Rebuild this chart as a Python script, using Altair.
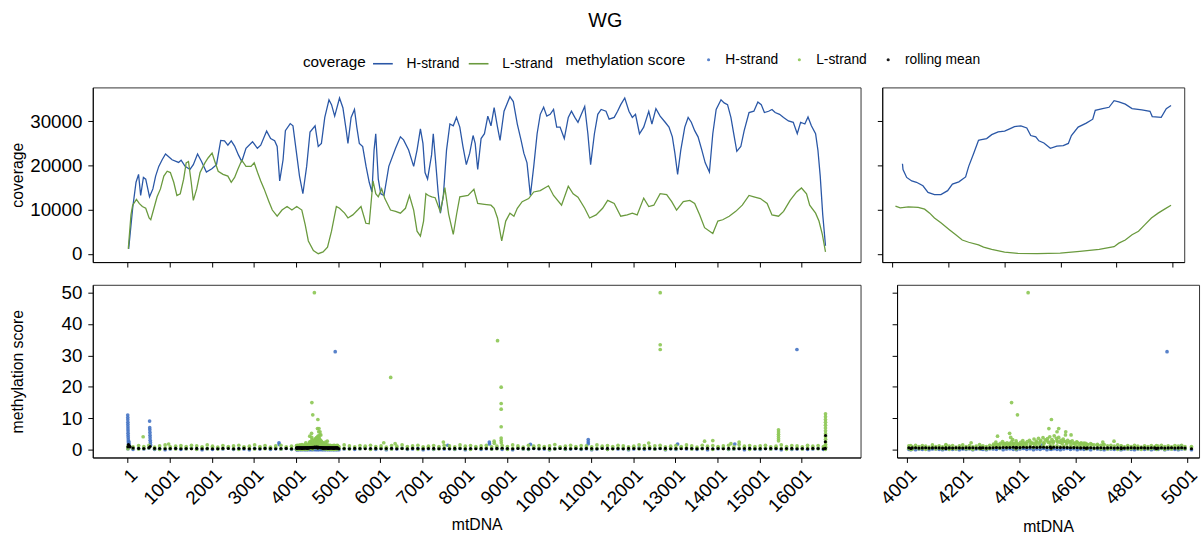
import altair as alt
import pandas as pd

# ---------------- data ----------------
x_ticks_full = [1, 1001, 2001, 3001, 4001, 5001, 6001, 7001, 8001, 9001, 10001,
                11001, 12001, 13001, 14001, 15001, 16001]
x_ticks_zoom = [4001, 4201, 4401, 4601, 4801, 5001]
cov_ticks = [0, 10000, 20000, 30000]
meth_ticks = [0, 10, 20, 30, 40, 50]
strands = ["H-strand", "L-strand"]
meth_series = ["H-strand", "L-strand", "rolling mean"]

# coverage, whole mtDNA (position, coverage)
cov_H_full = [(25,1100),(120,10300),(200,16200),(260,18000),(310,13200),(375,17300),(430,16900),(520,12900),
 (600,14700),(665,17600),(740,19800),(820,21300),(900,22600),(975,22000),(1055,21300),(1210,20700),(1270,21200),
 (1365,19800),(1480,19100),(1560,20200),(1660,22600),(1755,20900),(1870,18500),(2000,19250),(2110,20200),
 (2210,25700),(2300,25600),(2380,24600),(2460,25600),(2540,24400),(2630,22400),(2710,20900),(2810,23900),
 (2965,25400),(3080,23900),(3160,24600),(3300,27800),(3395,26100),(3490,25600),(3550,24300),(3610,16500),
 (3690,21300),(3745,27900),(3860,29500),(3925,29000),(4000,23500),(4080,17600),(4160,13600),(4250,19800),
 (4330,27600),(4450,29000),(4525,24300),(4600,25000),(4680,30900),(4780,34900),(4840,33800),(4915,31200),
 (5030,35300),(5110,33100),(5190,27900),(5230,25000),(5305,30900),(5385,32700),(5440,28700),(5500,25000),
 (5580,24300),(5660,19800),(5735,16200),(5800,14000),(5850,23500),(5890,27200),(5950,16900),(6010,13600),
 (6085,13200),(6200,19800),(6360,23900),(6475,26500),(6550,25800),(6670,23500),(6790,19800),(6870,23500),
 (6950,28300),(7010,25000),(7060,18400),(7120,16900),(7215,22400),(7255,27200),(7310,21000),(7370,14000),
 (7425,9200),(7495,13200),(7570,23500),(7650,29400),(7730,29000),(7806,30900),(7885,28700),(7960,24300),
 (8040,20200),(8120,22800),(8200,26800),(8250,25000),(8310,19100),(8390,26100),(8470,27200),(8550,31200),
 (8625,29000),(8700,33100),(8780,28700),(8840,25700),(8935,32300),(9075,35600),(9155,34500),(9250,29400),
 (9340,25700),(9405,22800),(9480,20600),(9560,13200),(9640,19800),(9720,27200),(9795,31600),(9875,33200),
 (9950,31200),(10030,31600),(10110,32700),(10185,28700),(10265,28700),(10365,26100),(10460,30900),
 (10535,32300),(10615,30900),(10690,29800),(10770,31600),(10850,33400),(10925,27200),(10990,20200),
 (11080,27200),(11160,31600),(11240,32700),(11355,32300),(11430,30500),(11550,30900),(11630,32300),
 (11705,33800),(11800,35300),(11900,32300),(11980,30900),(12055,31600),(12150,27200),(12250,28700),
 (12370,32300),(12445,29400),(12540,32900),(12640,31200),(12760,29800),(12850,28700),(12930,26500),
 (12990,22800),(13055,18000),(13130,23500),(13225,28700),(13305,30900),(13380,29800),(13460,27900),
 (13540,26500),(13630,23500),(13710,20600),(13810,18500),(13890,27200),(13970,32700),(14085,34900),
 (14160,34200),(14240,33800),(14320,30900),(14400,26500),(14460,23200),(14555,24300),(14635,27900),
 (14750,32000),(14865,32300),(14960,34400),(15040,33800),(15115,32000),(15215,32300),(15295,32700),
 (15370,32000),(15475,31600),(15570,30900),(15685,30100),(15800,29800),(15895,27200),(15975,29800),
 (16075,29400),(16150,31000),(16230,29000),(16330,27200),(16385,23500),(16440,17600),(16500,8800),(16565,1800)]

cov_L_full = [(16,1100),(80,8800),(120,11000),(210,12300),(275,11400),(350,10700),(430,10300),(510,8100),
 (550,7700),(625,10300),(700,12900),(780,14700),(860,17600),(940,18700),(1015,18400),(1095,16200),(1170,13200),
 (1250,13600),(1330,16900),(1390,20600),(1445,20900),(1510,16200),(1560,12100),(1640,14700),(1720,18400),
 (1835,20600),(1910,21700),(2005,22800),(2070,20900),(2150,18700),(2265,18000),(2380,17600),(2460,16200),
 (2540,17300),(2615,19100),(2710,21200),(2810,19800),(2930,19800),(3005,20600),(3085,18400),(3160,16500),
 (3240,14700),(3355,11800),(3435,9900),(3550,8500),(3665,9900),(3785,10700),(3900,9900),(4015,10700),
 (4135,9900),(4215,6600),(4290,2900),(4410,700),(4525,0),(4640,400),(4745,1500),(4840,5100),(4955,10700),
 (5030,10300),(5150,9200),(5230,8100),(5345,8800),(5460,9900),(5540,10700),(5655,6900),(5735,6800),
 (5825,16500),(5890,13600),(5950,12900),(6030,14700),(6105,12500),(6240,9900),(6360,9600),(6475,9200),
 (6595,10300),(6690,13200),(6790,9900),(6870,5100),(6950,4000),(7025,7400),(7080,13600),(7140,13200),
 (7220,12900),(7300,12700),(7420,9600),(7470,11800),(7530,15000),(7620,9000),(7730,4400),(7810,9000),
 (7885,12900),(8080,13200),(8220,14600),(8310,11400),(8470,11200),(8625,11000),(8700,10300),(8780,8100),
 (8880,2900),(8975,7400),(9075,9200),(9170,8500),(9250,10300),(9365,11800),(9520,12500),(9640,14000),
 (9795,14300),(9990,15400),(10110,13200),(10300,11000),(10460,15300),(10575,13600),(10690,12800),
 (10850,10300),(10965,8100),(11120,8800),(11275,10300),(11395,12100),(11550,11400),(11705,8500),
 (11860,8800),(11980,9200),(12095,8800),(12250,12600),(12370,10700),(12490,11000),(12640,13600),
 (12795,13400),(12915,11800),(13030,9900),(13190,11800),(13345,12100),(13460,11400),(13580,8800),
 (13695,5900),(13890,4600),(14010,7400),(14125,7700),(14280,8500),(14435,9600),(14590,11000),(14750,13200),
 (14865,12900),(15020,12500),(15180,11400),(15295,8800),(15450,8500),(15570,9600),(15725,12100),
 (15880,14000),(15995,14900),(16115,13600),(16190,11000),(16330,9200),(16410,7400),(16490,4400),(16565,400)]

# coverage, region 4001-5001
cov_H_zoom = [(4038,20400),(4040,19100),(4053,17300),(4071,16500),(4088,16200),(4111,15400),(4129,13900),
 (4152,13400),(4175,13400),(4199,14300),(4216,15800),(4239,16300),(4263,17400),(4274,19800),(4292,22800),
 (4309,25700),(4315,25800),(4338,26100),(4356,27000),(4379,27600),(4402,27800),(4420,28300),(4437,28800),
 (4460,29000),(4481,28500),(4495,26800),(4513,26500),(4524,25600),(4542,25100),(4565,23900),(4588,24400),
 (4611,24500),(4629,25000),(4640,26800),(4664,28700),(4693,29600),(4716,30500),(4725,32500),(4751,32900),
 (4774,33200),(4792,34700),(4809,34400),(4832,33900),(4856,32900),(4891,32600),(4920,32300),(4928,31100),
 (4960,30900),(4978,32900),(4995,33600)]
cov_L_zoom = [(4013,10800),(4030,10400),(4059,10600),(4094,10500),(4117,10100),(4135,9200),(4152,8100),
 (4175,7000),(4204,5500),(4228,4300),(4251,3100),(4274,2600),(4309,2000),(4327,1500),(4356,960),(4402,370),
 (4449,70),(4518,0),(4600,150),(4670,510),(4739,960),(4792,1600),(4809,2400),(4832,3100),(4856,4300),
 (4879,5100),(4902,6600),(4925,8100),(4949,9200),(4972,10100),(4995,11000)]

# methylation score: genome-wide sites
base_pos = [8,130,262,385,505,640,760,890,1012,1140,1265,1390,1515,1640,1768,1890,2015,2140,2262,2390,
 2515,2640,2762,2890,3015,3140,3262,3390,3515,3640,3765,3890,4015,4140,4265,4390,4515,4640,4765,4890,
 5015,5140,5265,5390,5515,5640,5765,5890,6015,6140,6265,6390,6515,6640,6765,6890,7015,7140,7265,7390,
 7515,7640,7765,7890,8015,8140,8265,8390,8515,8640,8765,8890,9015,9140,9265,9390,9515,9640,9765,9890,
 10015,10140,10265,10390,10515,10640,10765,10890,11015,11140,11265,11390,11515,11640,11765,11890,
 12015,12140,12265,12390,12515,12640,12765,12890,13015,13140,13265,13390,13515,13640,13765,13890,
 14015,14140,14265,14390,14515,14640,14765,14890,15015,15140,15265,15390,15515,15640,15765,15890,
 16015,16140,16265,16390,16515,16560]
h_base = [0.3,0.1,0.4,0.2,0.5,0.1,0.3,0.0,0.2,0.4, 0.1,0.3,0.5,0.2,0.0,0.3,0.1,0.4,0.2,0.6,
 0.1,0.3,0.2,0.0,0.4,0.2,0.5,0.1,0.3,0.2, 0.4,0.1,0.0,0.3,0.2,0.5,0.1,0.4,0.2,0.3,
 0.0,0.2,0.4,0.1,0.3,0.6,0.2,0.1,0.4,0.0, 0.3,0.2,0.5,0.1,0.2,0.4,0.0,0.3,0.1,0.5,
 0.2,0.3,0.1,0.4,0.0,0.2,0.6,0.1,0.3,0.2, 0.4,0.1,0.3,0.0,0.5,0.2,0.1,0.4,0.3,0.2,
 0.0,0.3,0.5,0.1,0.2,0.4,0.1,0.3,0.0,0.2, 0.5,0.1,0.4,0.2,0.3,0.0,0.2,0.6,0.1,0.3,
 0.2,0.4,0.0,0.3,0.1,0.5,0.2,0.3,0.1,0.4, 0.0,0.2,0.3,0.5,0.1,0.2,0.4,0.0,0.3,0.2,
 0.1,0.4,0.2,0.3,0.0,0.5,0.1,0.2,0.3,0.1, 0.2,0.4,0.1,0.3,0.2,0.0]
l_lo = [0.3,0.5,0.2,0.4,0.6,0.3,0.1,0.5,0.4,0.2, 0.6,0.3,0.4,0.1,0.5,0.3,0.6,0.2,0.4,0.5,
 0.3,0.1,0.6,0.4,0.2,0.5,0.3,0.4,0.6,0.2, 0.5,0.3,0.1,0.4,0.6,0.2,0.5,0.3,0.4,0.1,
 0.6,0.4,0.2,0.5,0.3,0.6,0.1,0.4,0.5,0.3, 0.2,0.6,0.4,0.3,0.5,0.1,0.4,0.6,0.2,0.3,
 0.5,0.4,0.2,0.6,0.3,0.1,0.5,0.4,0.6,0.2, 0.3,0.5,0.1,0.4,0.6,0.3,0.2,0.5,0.4,0.6,
 0.1,0.3,0.5,0.2,0.4,0.6,0.3,0.5,0.2,0.4, 0.6,0.1,0.3,0.5,0.4,0.2,0.6,0.3,0.4,0.5,
 0.2,0.6,0.1,0.4,0.3,0.5,0.6,0.2,0.4,0.3, 0.5,0.1,0.6,0.4,0.2,0.3,0.5,0.6,0.1,0.4,
 0.3,0.5,0.2,0.6,0.4,0.1,0.3,0.5,0.2,0.6, 0.4,0.3,0.5,0.1,0.6,0.2]
l_hi = [1.1,0.9,1.3,1.0,1.4,0.8,1.2,1.5,0.9,1.1, 1.3,1.0,1.4,1.2,0.9,1.5,1.1,0.8,1.3,1.0,
 1.2,1.4,0.9,1.1,1.5,1.0,1.3,0.8,1.2,1.4, 0.9,1.1,1.3,1.6,1.0,1.2,0.9,1.4,1.1,1.3,
 1.0,1.5,1.2,0.9,1.3,1.1,1.4,1.0,1.2,0.8, 1.3,1.1,1.5,1.0,1.2,1.4,0.9,1.1,1.3,1.0,
 1.4,1.2,0.9,1.5,1.1,1.3,1.0,1.2,1.4,0.9, 1.1,1.3,1.0,1.5,1.2,0.8,1.4,1.1,1.3,1.0,
 1.2,1.6,0.9,1.1,1.4,1.0,1.3,1.2,0.9,1.5, 1.1,1.3,1.0,1.4,1.2,0.9,1.1,1.5,1.3,1.0,
 1.2,1.4,0.9,1.1,1.3,1.0,1.5,1.2,0.8,1.4, 1.1,1.3,1.0,1.2,1.4,0.9,1.6,1.1,1.3,1.0,
 1.2,1.4,0.9,1.1,1.5,1.0,1.3,1.2,0.9,1.4, 1.1,1.3,1.0,1.2,1.4,0.9]
mean_base = [0.9,0.5,0.4,0.35,0.6,0.4,0.35,0.3,0.35,0.4, 0.3,0.35,0.3,0.4,0.3,0.35,0.3,0.3,0.4,0.35,
 0.3,0.35,0.4,0.3,0.35,0.3,0.4,0.35,0.3,0.35, 0.4,0.3,0.35,0.4,0.5,0.55,0.5,0.45,0.4,0.35,
 0.3,0.35,0.3,0.4,0.35,0.3,0.35,0.4,0.3,0.35, 0.4,0.3,0.35,0.3,0.4,0.35,0.3,0.35,0.4,0.3,
 0.35,0.3,0.4,0.35,0.3,0.35,0.3,0.4,0.35,0.3, 0.4,0.45,0.35,0.3,0.35,0.4,0.3,0.35,0.3,0.4,
 0.35,0.3,0.35,0.4,0.3,0.35,0.3,0.4,0.35,0.3, 0.35,0.4,0.3,0.35,0.3,0.4,0.35,0.3,0.35,0.4,
 0.3,0.35,0.4,0.3,0.35,0.3,0.4,0.35,0.3,0.35, 0.4,0.3,0.35,0.3,0.4,0.35,0.3,0.35,0.4,0.3,
 0.35,0.3,0.4,0.35,0.3,0.35,0.4,0.3,0.35,0.3, 0.4,0.35,0.3,0.4,0.8,1.6]

# methylation score: dense sites in 4001-5001
zoom_pos = [4008,4020,4032,4044,4056,4068,4080,4092,4104,4116,4128,4140,4152,4164,4176,4188,4200,4212,
 4224,4236,4248,4260,4272,4284,4296,4308,4320,4332,4344,4356,4368,4380,4392,4404,4416,4428,4440,4452,
 4464,4476,4488,4500,4512,4524,4536,4548,4560,4572,4584,4596,4608,4620,4632,4644,4656,4668,4680,4692,
 4704,4716,4728,4740,4752,4764,4776,4788,4800,4812,4824,4836,4848,4860,4872,4884,4896,4908,4920,4932,
 4944,4956,4968,4980,4992]
z_h = [0.1,0.3,0.0,0.2,0.1,0.4,0.0,0.2,0.3,0.1, 0.0,0.2,0.4,0.1,0.3,0.0,0.2,0.1,0.3,0.0,
 0.2,0.4,0.1,0.0,0.3,0.2,0.1,0.4,0.0,0.2, 0.3,0.1,0.0,0.2,0.4,0.1,0.3,0.0,0.2,0.1,
 0.4,0.0,0.2,0.3,0.1,0.0,0.2,0.4,0.1,0.3, 0.0,0.2,0.1,0.3,0.0,0.4,0.2,0.1,0.0,0.3,
 0.2,0.1,0.4,0.0,0.2,0.3,0.1,0.0,0.2,0.4, 0.1,0.3,0.0,0.2,0.1,0.4,0.0,0.2,0.3,0.1,
 0.0,0.2,0.3]
z_l_lo = [0.4,0.2,0.6,0.3,0.5,0.1,0.4,0.7,0.2,0.5, 0.3,0.6,0.1,0.4,0.2,0.5,0.7,0.3,0.4,0.1,
 0.6,0.3,0.5,0.2,0.4,0.6,0.8,0.5,0.9,0.6, 1.0,0.7,0.9,0.6,1.1,0.8,1.0,0.7,1.2,0.9,
 1.1,0.8,1.3,1.0,1.2,0.9,1.1,0.8,1.0,0.7, 0.9,0.6,0.8,0.5,0.7,0.4,0.6,0.3,0.5,0.2,
 0.4,0.6,0.1,0.3,0.5,0.2,0.4,0.6,0.3,0.1, 0.5,0.2,0.4,0.6,0.3,0.5,0.1,0.4,0.2,0.6,
 0.3,0.5,0.2]
z_l_hi = [1.2,0.9,1.4,1.0,1.3,1.1,0.8,1.5,1.0,1.2, 0.9,1.4,1.1,1.3,0.8,1.2,1.5,1.0,1.3,0.9,
 1.1,1.6,1.2,1.0,1.4,1.3,1.7,1.5,1.9,1.6, 2.0,1.8,2.2,1.7,2.1,1.9,2.4,2.0,2.3,2.6,
 2.2,2.8,2.4,2.6,2.9,2.3,2.7,2.2,2.5,2.0, 2.3,1.9,2.1,1.7,1.9,1.5,1.7,1.4,1.6,1.2,
 1.4,1.1,1.5,1.2,0.9,1.3,1.0,1.4,1.1,0.8, 1.2,1.0,1.3,0.9,1.1,1.4,1.0,1.2,0.9,1.3,
 1.1,1.4,1.0]
z_mean = [0.6,0.55,0.6,0.5,0.55,0.6,0.5,0.55,0.6,0.55, 0.5,0.6,0.55,0.5,0.6,0.55,0.5,0.6,0.55,0.6,
 0.5,0.55,0.6,0.5,0.55,0.6,0.65,0.6,0.7,0.65, 0.7,0.75,0.7,0.65,0.75,0.7,0.8,0.75,0.7,0.8,
 0.75,0.7,0.8,0.75,0.7,0.65,0.7,0.65,0.6,0.65, 0.6,0.55,0.6,0.55,0.6,0.5,0.55,0.6,0.5,0.55,
 0.6,0.5,0.55,0.6,0.5,0.55,0.6,0.55,0.5,0.6, 0.55,0.5,0.6,0.55,0.5,0.6,0.5,0.55,0.6,0.5,
 0.55,0.6,0.5]
l_peak = [(4310,1.8),(4318,2.4),(4326,1.6),(4334,2.0),(4342,2.6),(4350,1.9),(4358,2.2),(4366,1.7),
 (4374,2.5),(4382,2.0),(4390,2.8),(4398,1.8),(4406,2.3),(4414,2.9),(4422,2.1),(4430,2.6),(4438,3.0),
 (4446,2.2),(4454,3.4),(4462,2.7),(4470,3.6),(4478,2.9),(4486,3.8),(4494,3.1),(4502,3.5),(4510,4.1),
 (4518,3.2),(4526,4.4),(4534,3.6),(4542,3.9),(4550,3.0),(4558,3.4),(4566,2.6),(4574,3.0),(4582,2.4),
 (4590,2.8),(4598,2.1),(4606,2.5),(4614,1.9),(4622,2.2),(4630,1.7),(4638,2.0),(4646,1.5),(4660,1.6),
 (4680,1.4),(4700,1.5),(4314,1.2),(4330,1.1),(4346,1.3),(4362,1.2),(4378,1.4),(4394,1.3),(4410,1.5),
 (4426,1.4),(4442,1.7),(4458,1.6),(4474,1.9),(4490,2.0),(4506,2.3),(4522,2.1),(4538,2.4),(4554,2.0),
 (4570,1.8),(4586,1.6),(4602,1.5),(4618,1.3),(4634,1.2),(4324,4.3),(4367,5.2),(4371,3.9),(4378,3.2),
 (4507,6.7),(4542,6.7),(4536,5.7),(4567,5.7),(4566,4.7),(4586,4.7),(4699,2.4),(4739,2.7),(4230,2.2)]
# isolated / clustered high scores
h_extra = [(3,11.0),(4,10.2),(5,9.5),(6,8.7),(7,8.0),(8,7.3),(9,6.6),(10,5.9),(11,5.2),(12,4.5),
 (14,3.8),(16,3.1),(18,2.4),(21,1.8),(25,1.2),(30,2.6),(35,1.9),(40,0.9),(522,9.1),(525,7.0),(527,6.3),
 (530,5.5),(532,4.6),(534,3.8),(536,3.0),(540,2.3),(545,1.5),(3593,2.2),(3600,1.6),(4484,1.5),
 (4928,31.2),(4978,1.2),(8586,2.4),(8590,1.8),(10934,3.2),(10934,2.5),(10934,1.9),(13055,1.8),
 (14412,1.8),(9561,1.7),(7600,1.4),(15887,31.9)]
l_extra = [(369,4.1),(975,1.8),(4433,50.0),(4374,15.0),(4395,11.1),(4516,9.6),(6080,2.2),(6245,23.0),
 (6350,1.9),(7495,2.4),(8700,2.7),(8705,2.0),(8781,34.7),(8867,19.9),(8867,14.7),(8867,12.9),
 (8867,7.3),(8867,3.7),(8867,2.9),(8870,2.2),(12370,2.1),(12642,50.0),(12642,33.4),(12642,31.9),
 (13695,2.7),(13890,2.9),(14320,1.9),(14515,2.4),(15450,6.3),(15450,5.6),(15450,4.9),(15450,4.2),
 (15450,3.5),(15450,2.8),(16565,11.4),(16565,10.5),(16565,9.6),(16565,8.7),(16565,7.8),(16565,6.9),
 (16565,6.0),(16566,5.1),(16566,4.2),(16567,3.3),(16567,2.4),(16568,1.6),(16569,0.8)]
mean_extra = [(20,1.6),(40,1.2),(60,0.9),(535,1.0),(16562,2.5),(16566,4.5)]

# ---------------- frames ----------------
def rows(pairs, series):
    return [{"pos": p, "value": v, "series": series} for p, v in pairs]

cov_full = pd.DataFrame(rows(cov_H_full, strands[0]) + rows(cov_L_full, strands[1]))
cov_zoom = pd.DataFrame(rows(cov_H_zoom, strands[0]) + rows(cov_L_zoom, strands[1]))

meth_H = list(zip(base_pos, h_base)) + list(zip(zoom_pos, z_h)) + h_extra
meth_L = (list(zip(base_pos, l_lo)) + list(zip(base_pos, l_hi)) + list(zip(zoom_pos, z_l_lo))
          + list(zip(zoom_pos, z_l_hi)) + l_peak + l_extra)
meth_M = list(zip(base_pos, mean_base)) + list(zip(zoom_pos, z_mean)) + mean_extra
meth_pts = pd.DataFrame(rows(meth_H, meth_series[0]) + rows(meth_L, meth_series[1]))
meth_mean = pd.DataFrame(rows(meth_M, meth_series[2]))
ZLO, ZHI = 3966, 5042
meth_pts_z = meth_pts[(meth_pts.pos >= ZLO) & (meth_pts.pos <= ZHI)]
meth_mean_z = meth_mean[(meth_mean.pos >= ZLO) & (meth_mean.pos <= ZHI)]

# ---------------- styling ----------------
FONT = "Liberation Sans"
W_L, W_R, H_T, H_B = 778, 306, 177, 175
stroke_scale = alt.Scale(domain=strands, range=["#2a57a6", "#6a9a3e"])
fill_scale = alt.Scale(domain=meth_series, range=["#4674c4", "#8cc653", "#000000"])

leg_common = dict(orient="none", legendY=-35, direction="horizontal", titleOrient="left",
                  labelFontSize=14, titleFontSize=15.5, titleFontWeight="normal",
                  labelColor="black", titleColor="black", labelFont=FONT, titleFont=FONT)
leg_cov = alt.Legend(title="coverage", legendX=213, symbolType="stroke", symbolSize=400,
                     symbolStrokeWidth=1.6, labelOffset=13, columnPadding=5, titlePadding=6,
                     **leg_common)
leg_meth = alt.Legend(title="methylation score", legendX=479, symbolType="circle", symbolSize=10,
                      symbolStrokeWidth=0, labelOffset=10, columnPadding=14, titlePadding=16,
                      **leg_common)

xs_full = alt.Scale(domain=[-827, 17397], nice=False, zero=False)
xs_zoom = alt.Scale(domain=[ZLO, ZHI], nice=False, zero=False)
ys_cov = alt.Scale(domain=[-1900, 37700], nice=False, zero=False)
ys_meth = alt.Scale(domain=[-2.5, 52.5], nice=False, zero=False)


def x_axis(values, labels, title_pad):
    if labels:
        return alt.Axis(values=values, title="mtDNA", labelAngle=-45, labelAlign="right",
                        labelBaseline="top", labelPadding=3, titlePadding=title_pad,
                        labelOverlap=False, labelFlush=False, format="d")
    return alt.Axis(values=values, labels=False, title=None)


def y_axis(values, title, title_pad):
    if title:
        return alt.Axis(values=values, title=title, titlePadding=title_pad,
                        labelOverlap=False, format="d")
    return alt.Axis(values=values, labels=False, title=None)


def cov_panel(df, xs, xticks, width, with_title):
    return alt.Chart(df).mark_line(strokeWidth=1.3, clip=True).encode(
        x=alt.X("pos:Q", scale=xs, axis=x_axis(xticks, False, 0)),
        y=alt.Y("value:Q", scale=ys_cov,
                axis=y_axis(cov_ticks, "coverage" if with_title else None, 4)),
        stroke=alt.Stroke("series:N", scale=stroke_scale, legend=leg_cov),
    ).properties(width=width, height=H_T)


def meth_panel(pts, mean, xs, xticks, width, with_title, xpad):
    ax = x_axis(xticks, True, xpad)
    ay = y_axis(meth_ticks, "methylation score" if with_title else None, 36)
    p1 = alt.Chart(pts).mark_circle(size=14, opacity=0.9, clip=True).encode(
        x=alt.X("pos:Q", scale=xs, axis=ax),
        y=alt.Y("value:Q", scale=ys_meth, axis=ay),
        fill=alt.Fill("series:N", scale=fill_scale, legend=leg_meth),
    )
    p2 = alt.Chart(mean).mark_circle(size=10, opacity=1, clip=True).encode(
        x=alt.X("pos:Q", scale=xs, axis=ax),
        y=alt.Y("value:Q", scale=ys_meth, axis=ay),
        fill=alt.Fill("series:N", scale=fill_scale, legend=leg_meth),
    )
    return alt.layer(p1, p2).properties(width=width, height=H_B)


top = alt.hconcat(
    cov_panel(cov_full, xs_full, x_ticks_full, W_L, True),
    cov_panel(cov_zoom, xs_zoom, x_ticks_zoom, W_R, False),
    spacing=15,
)
bottom = alt.hconcat(
    meth_panel(meth_pts, meth_mean, xs_full, x_ticks_full, W_L, True, 1),
    meth_panel(meth_pts_z, meth_mean_z, xs_zoom, x_ticks_zoom, W_R, False, 11),
    spacing=15,
)

chart = alt.vconcat(top, bottom, spacing=15).properties(
    title=alt.TitleParams("WG", fontSize=20, fontWeight="normal", anchor="middle", font=FONT,
                          color="black", offset=22),
    padding={"left": 9, "top": 8, "right": 0, "bottom": 0},
).configure(font=FONT).configure_view(
    stroke="#333333", strokeWidth=1
).configure_axis(
    grid=False, domainColor="black", tickColor="black", labelColor="black", titleColor="black",
    labelFontSize=19, titleFontSize=16, titleFontWeight="normal", tickSize=5, labelPadding=6,
    domainWidth=1, tickWidth=1, labelFont=FONT, titleFont=FONT,
)

chart.save("out.html", embed_options={"renderer": "svg", "actions": False})
